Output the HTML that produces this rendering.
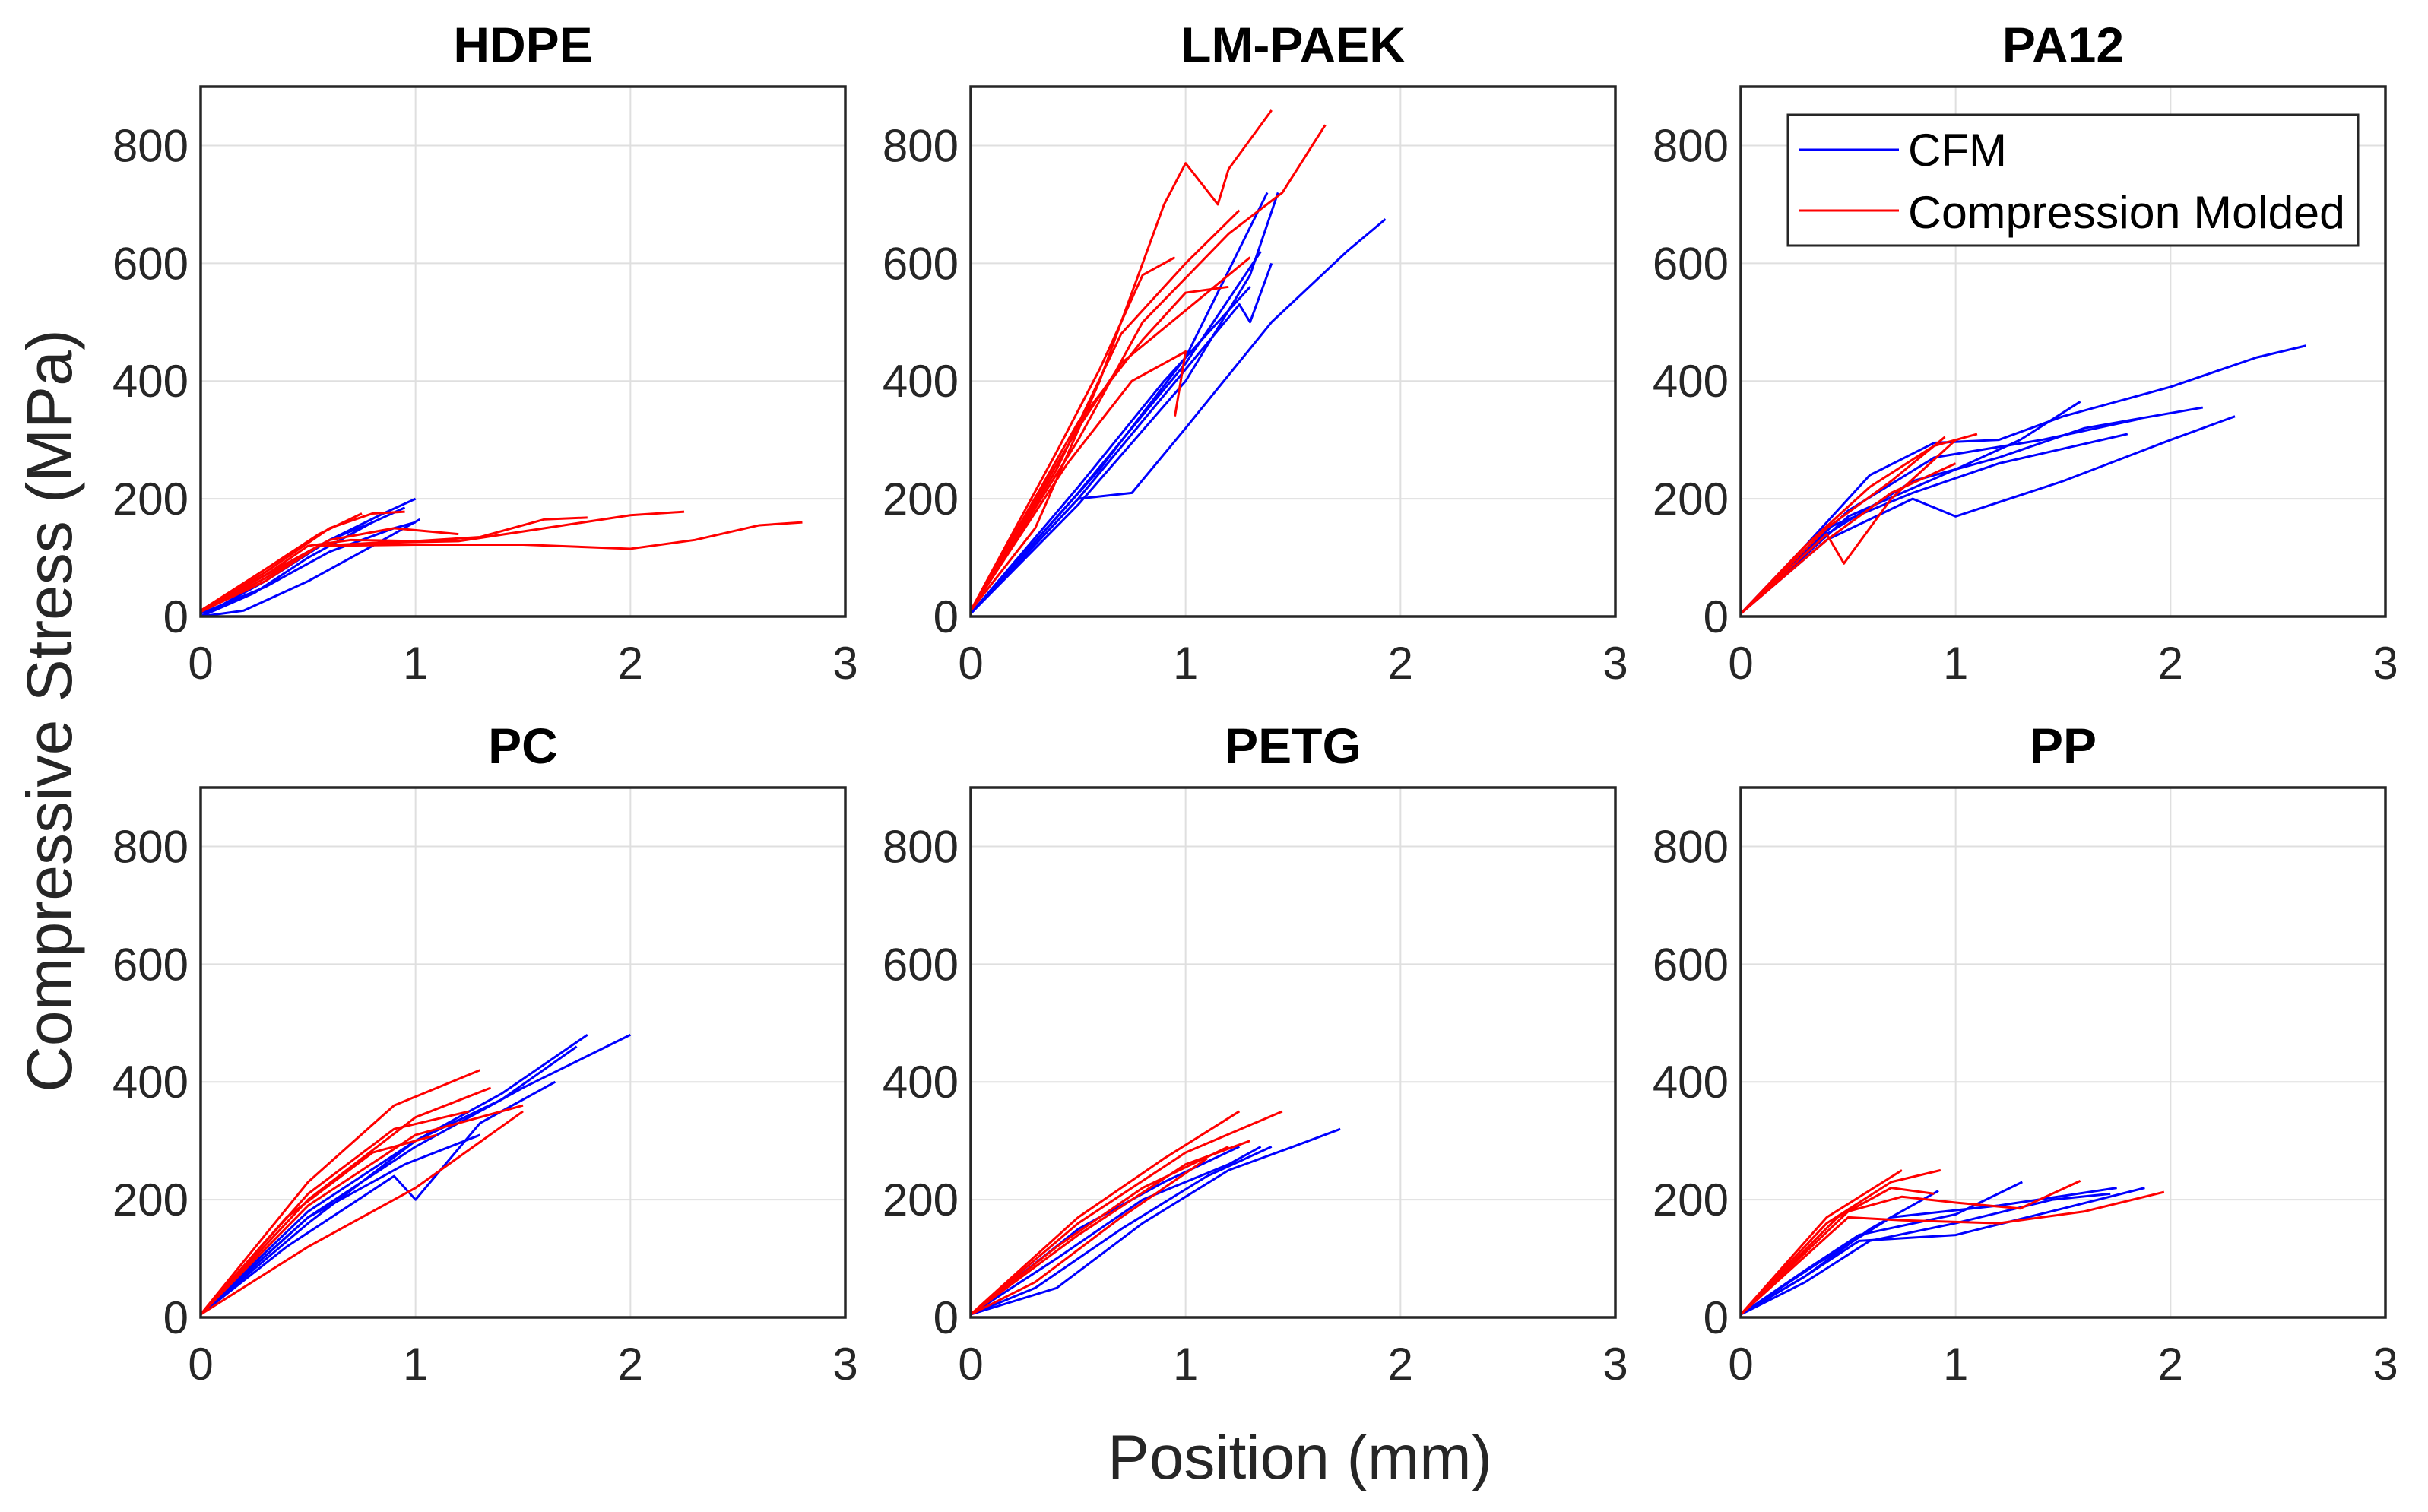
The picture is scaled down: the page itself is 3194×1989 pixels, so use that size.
<!DOCTYPE html>
<html><head><meta charset="utf-8"><style>
html,body{margin:0;padding:0;background:#fff;}
svg{display:block;font-family:"Liberation Sans",Arial,sans-serif;}
</style></head><body>
<svg id="chart" width="3194" height="1989" viewBox="0 0 3194 1989" xmlns="http://www.w3.org/2000/svg">
<rect width="3194" height="1989" fill="#fff"/>
<text transform="translate(94,935) rotate(-90)" text-anchor="middle" font-size="84" fill="#262626">Compressive Stress (MPa)</text>
<text x="1710" y="1945" text-anchor="middle" font-size="82" fill="#262626">Position (mm)</text>
<g id="panels"></g>
<g>
<rect x="2352" y="151" width="750" height="172" fill="#fff" stroke="#262626" stroke-width="3"/>
<line x1="2366" y1="197" x2="2498" y2="197" stroke="#0000ff" stroke-width="3"/>
<text x="2510" y="218" font-size="60" fill="#000">CFM</text>
<line x1="2366" y1="277" x2="2498" y2="277" stroke="#ff0000" stroke-width="3"/>
<text x="2510" y="300" font-size="60" textLength="575" lengthAdjust="spacingAndGlyphs" fill="#000">Compression Molded</text>
</g>
</svg>
<script>
const panelTitles = ["HDPE","LM-PAEK","PA12","PC","PETG","PP"];
const xTicks = [0,1,2,3];
const yTicks = [0,200,400,600,800];
const xMax = 3, yMax = 900;

const hdpeCFM = [
 [[0,0],[0.3,60],[0.6,130],[0.85,175],[1.0,200]],
 [[0,0],[0.2,10],[0.5,60],[0.8,120],[1.02,165]],
 [[0,5],[0.3,50],[0.6,110],[0.9,150],[1.0,160]],
 [[0,0],[0.25,40],[0.5,100],[0.8,160],[0.95,185]],
 [[0,10],[0.3,70],[0.6,130],[0.8,160]]
];
const hdpeCM = [
 [[0,10],[0.3,80],[0.55,140],[0.75,175]],
 [[0,10],[0.3,75],[0.6,150],[0.8,175],[0.95,178]],
 [[0,10],[0.3,70],[0.5,120],[0.7,130],[1.0,128],[1.3,135],[1.6,165],[1.8,168]],
 [[0,8],[0.3,65],[0.55,120],[0.8,125],[1.2,128],[1.6,150],[2.0,172],[2.25,178]],
 [[0,8],[0.3,60],[0.55,120],[1.0,122],[1.5,122],[2.0,115],[2.3,130],[2.6,155],[2.8,160]],
 [[0,10],[0.35,80],[0.6,130],[0.9,150],[1.2,140]]
];
const paekCFM = [
 [[0,5],[0.5,200],[0.75,210],[1.0,320],[1.4,500],[1.75,620],[1.93,675]],
 [[0,5],[0.5,190],[1.0,400],[1.3,580],[1.43,720]],
 [[0,5],[0.5,210],[1.0,430],[1.35,620]],
 [[0,5],[0.5,200],[1.0,420],[1.25,530],[1.3,500],[1.4,600]],
 [[0,5],[0.6,250],[1.0,440],[1.38,720]],
 [[0,5],[0.5,220],[0.9,400],[1.3,560]]
];
const paekCM = [
 [[0,10],[0.3,150],[0.6,400],[0.9,700],[1.0,770],[1.15,700],[1.2,760],[1.4,860]],
 [[0,10],[0.5,300],[0.8,500],[1.2,650],[1.45,720],[1.65,835]],
 [[0,10],[0.4,280],[0.6,420],[0.8,580],[0.95,610]],
 [[0,10],[0.5,320],[0.7,430],[1.0,520],[1.3,610]],
 [[0,10],[0.45,260],[0.75,400],[1.0,450],[0.95,340]],
 [[0,10],[0.4,250],[0.7,480],[1.0,600],[1.25,690]],
 [[0,10],[0.5,330],[0.8,470],[1.0,550],[1.2,560]]
];
const pa12CFM = [
 [[0,5],[0.3,120],[0.6,240],[0.9,295],[1.2,300],[1.5,340],[2.0,390],[2.4,440],[2.63,460]],
 [[0,5],[0.4,130],[0.8,200],[1.0,170],[1.5,230],[2.0,300],[2.3,340]],
 [[0,5],[0.4,140],[0.8,230],[1.2,270],[1.6,320],[2.15,355]],
 [[0,5],[0.5,170],[1.0,250],[1.3,300],[1.58,365]],
 [[0,5],[0.5,180],[0.9,270],[1.4,300],[1.85,335]],
 [[0,5],[0.4,150],[0.8,210],[1.2,260],[1.8,310]]
];
const pa12CM = [
 [[0,5],[0.4,150],[0.7,230],[0.95,305]],
 [[0,5],[0.4,140],[0.48,90],[0.7,200],[1.0,300]],
 [[0,5],[0.3,120],[0.6,220],[0.9,290],[1.1,310]],
 [[0,5],[0.4,130],[0.7,210],[1.0,260]]
];
const pcCFM = [
 [[0,5],[0.5,170],[1.0,290],[1.5,390],[2.0,480]],
 [[0,5],[0.5,160],[1.0,300],[1.4,380],[1.8,480]],
 [[0,5],[0.4,120],[0.9,240],[1.0,200],[1.3,330],[1.65,400]],
 [[0,5],[0.5,170],[0.95,260],[1.3,310]],
 [[0,5],[0.5,180],[1.0,300],[1.4,370],[1.75,460]]
];
const pcCM = [
 [[0,5],[0.5,230],[0.9,360],[1.3,420]],
 [[0,5],[0.5,200],[1.0,340],[1.35,390]],
 [[0,5],[0.5,120],[1.0,220],[1.5,350]],
 [[0,5],[0.5,190],[1.0,310],[1.5,360]],
 [[0,5],[0.5,210],[0.9,320],[1.25,350]],
 [[0,5],[0.4,170],[0.8,280],[1.1,310]]
];
const petgCFM = [
 [[0,5],[0.4,50],[0.8,160],[1.2,250],[1.5,290],[1.72,320]],
 [[0,5],[0.4,100],[0.8,200],[1.2,260],[1.35,290]],
 [[0,5],[0.5,150],[0.9,230],[1.25,290]],
 [[0,5],[0.3,50],[0.7,150],[1.1,240],[1.4,290]]
];
const petgCM = [
 [[0,5],[0.5,170],[0.9,270],[1.25,350]],
 [[0,5],[0.5,160],[1.0,280],[1.45,350]],
 [[0,5],[0.5,140],[1.0,260],[1.3,300]],
 [[0,5],[0.4,120],[0.8,220],[1.2,290]],
 [[0,5],[0.3,60],[0.7,170],[1.1,270]]
];
const ppCFM = [
 [[0,5],[0.3,80],[0.55,140],[1.0,175],[1.31,230]],
 [[0,5],[0.3,70],[0.55,130],[1.0,140],[1.5,185],[1.88,220]],
 [[0,5],[0.35,90],[0.7,170],[1.2,190],[1.75,220]],
 [[0,5],[0.3,60],[0.6,130],[1.0,160],[1.45,200],[1.72,210]],
 [[0,5],[0.3,70],[0.6,150],[0.92,215]]
];
const ppCM = [
 [[0,5],[0.4,170],[0.75,250]],
 [[0,5],[0.4,160],[0.7,230],[0.93,250]],
 [[0,5],[0.5,180],[0.75,205],[1.0,195],[1.3,185],[1.58,232]],
 [[0,5],[0.5,170],[0.75,165],[1.2,160],[1.6,180],[1.97,213]],
 [[0,5],[0.45,170],[0.7,220],[0.9,210]]
];
const cfmSets = [hdpeCFM,paekCFM,pa12CFM,pcCFM,petgCFM,ppCFM];
const cmSets = [hdpeCM,paekCM,pa12CM,pcCM,petgCM,ppCM];

const NS="http://www.w3.org/2000/svg";
const root=document.getElementById('panels');
const colX=[264,1277,2290], rowY=[114,1036], W=848, H=697;
function mk(tag,attrs,parent){const e=document.createElementNS(NS,tag);for(const k in attrs)e.setAttribute(k,attrs[k]);parent.appendChild(e);return e;}

panelTitles.forEach((title,i)=>{
  const x0=colX[i%3], y0=rowY[Math.floor(i/3)];
  const sx=v=>x0+v/xMax*W, sy=v=>y0+H-v/yMax*H;
  const g=mk('g',{},root);
  
  
  mk('rect',{x:x0,y:y0,width:W,height:H,fill:'#fff'},g);
  xTicks.forEach(t=>{
    mk('line',{x1:sx(t),x2:sx(t),y1:y0,y2:y0+H,stroke:'#dfdfdf','stroke-width':2},g);
    const lb=mk('text',{x:sx(t),y:y0+H+82,'text-anchor':'middle','font-size':60,fill:'#262626'},g);
    
    
    lb.textContent=t;
  });
  yTicks.forEach(t=>{
    mk('line',{x1:x0,x2:x0+W,y1:sy(t),y2:sy(t),stroke:'#dfdfdf','stroke-width':2},g);
    const lb=mk('text',{x:x0-16,y:sy(t)+21,'text-anchor':'end','font-size':60,fill:'#262626'},g);
    
    
    lb.textContent=t;
  });
  const draw=(sets,color,name)=>sets.forEach(c=>{
    const p=mk('polyline',{points:c.map(q=>sx(q[0])+','+sy(q[1])).join(' '),fill:'none',stroke:color,'stroke-width':3,'stroke-linejoin':'round'},g);
    
    
  });
  draw(cfmSets[i],'#0000ff','cfm-curve');
  draw(cmSets[i],'#ff0000','compression-molded-curve');
  mk('rect',{x:x0,y:y0,width:W,height:H,fill:'none',stroke:'#262626','stroke-width':3.5},g);
  const tt=mk('text',{x:x0+W/2,y:y0-32,'text-anchor':'middle','font-size':66,'font-weight':'bold',fill:'#000'},g);
  
  
  tt.textContent=title;
});
</script>
</body></html>
